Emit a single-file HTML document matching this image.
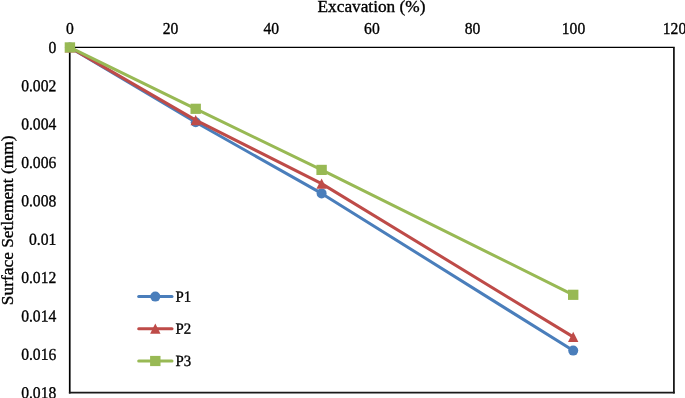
<!DOCTYPE html>
<html>
<head>
<meta charset="utf-8">
<title>Surface Setlement vs Excavation</title>
<style>
html,body{margin:0;padding:0;background:#fff;}
body{width:685px;height:398px;overflow:hidden;}
svg{display:block;}
text{font-family:"Liberation Serif",serif;fill:#000;stroke:#000;stroke-width:0.35px;}
.tick{font-size:16.8px;}
.title{font-size:17.3px;}
.leg{font-size:15.6px;}
</style>
</head>
<body>
<svg width="685" height="398" viewBox="0 0 685 398">
<rect x="0" y="0" width="685" height="398" fill="#ffffff"/>
<!-- plot border -->
<line x1="69.1" y1="47.4" x2="674.7" y2="47.4" stroke="#000" stroke-width="1.4"/>
<line x1="69.75" y1="47.4" x2="69.75" y2="393.5" stroke="#000" stroke-width="1.7"/>
<line x1="673.9" y1="47.4" x2="673.9" y2="393.6" stroke="#1a1a1a" stroke-width="1.8"/>
<line x1="68.9" y1="392.7" x2="674.7" y2="392.7" stroke="#1a1a1a" stroke-width="1.8"/>
<!-- x tick labels -->
<g class="tick" text-anchor="middle">
<text transform="translate(69.9,34) scale(0.93,1)">0</text>
<text transform="translate(170.6,34) scale(0.93,1)">20</text>
<text transform="translate(271.2,34) scale(0.93,1)">40</text>
<text transform="translate(371.9,34) scale(0.93,1)">60</text>
<text transform="translate(472.6,34) scale(0.93,1)">80</text>
<text transform="translate(573.5,34) scale(0.93,1)">100</text>
<text transform="translate(674.5,34) scale(0.93,1)">120</text>
</g>
<!-- y tick labels -->
<g class="tick" text-anchor="end">
<text transform="translate(56.3,52.9) rotate(0.1) scale(0.93,1)">0</text>
<text transform="translate(56.3,91.2) rotate(0.1) scale(0.93,1)">0.002</text>
<text transform="translate(56.3,129.6) rotate(0.1) scale(0.93,1)">0.004</text>
<text transform="translate(56.3,168.0) rotate(0.1) scale(0.93,1)">0.006</text>
<text transform="translate(56.3,206.4) rotate(0.1) scale(0.93,1)">0.008</text>
<text transform="translate(56.3,244.7) rotate(0.1) scale(0.93,1)">0.01</text>
<text transform="translate(56.3,283.1) rotate(0.1) scale(0.93,1)">0.012</text>
<text transform="translate(56.3,321.5) rotate(0.1) scale(0.93,1)">0.014</text>
<text transform="translate(56.3,359.9) rotate(0.1) scale(0.93,1)">0.016</text>
<text transform="translate(56.3,398.2) rotate(0.1) scale(0.93,1)">0.018</text>
</g>
<!-- axis titles -->
<text class="title" transform="translate(371.5,11.7)" text-anchor="middle">Excavation (%)</text>
<text class="title" style="font-size:17.38px" transform="translate(12.5,220.3) rotate(-90)" text-anchor="middle">Surface Setlement (mm)</text>
<!-- series P1 -->
<g>
<polyline points="69.9,47.4 195.7,122.3 321.6,193.4 573.2,350.6" fill="none" stroke="#4a7ebb" stroke-width="3" stroke-linejoin="round" stroke-linecap="round"/>
<circle cx="69.9" cy="47.4" r="5" fill="#4a7ebb"/>
<circle cx="195.7" cy="122.3" r="5" fill="#4a7ebb"/>
<circle cx="321.6" cy="193.4" r="5" fill="#4a7ebb"/>
<circle cx="573.2" cy="350.6" r="5" fill="#4a7ebb"/>
</g>
<!-- series P2 -->
<g>
<polyline points="69.9,47.4 195.7,120.1 321.6,183.6 573.2,336.9" fill="none" stroke="#be4b48" stroke-width="3" stroke-linejoin="round" stroke-linecap="round"/>
<polygon points="69.9,42.2 75.1,52.5 64.7,52.5" fill="#be4b48"/>
<polygon points="195.7,114.9 200.9,125.2 190.5,125.2" fill="#be4b48"/>
<polygon points="321.6,178.4 326.8,188.7 316.4,188.7" fill="#be4b48"/>
<polygon points="573.2,331.7 578.4,342.0 568.0,342.0" fill="#be4b48"/>
</g>
<!-- series P3 -->
<g>
<polyline points="69.9,47.4 195.7,108.8 321.6,169.9 573.2,294.8" fill="none" stroke="#98b954" stroke-width="3" stroke-linejoin="round" stroke-linecap="round"/>
<rect x="64.7" y="42.3" width="10.4" height="10.2" fill="#98b954"/>
<rect x="190.5" y="103.7" width="10.4" height="10.2" fill="#98b954"/>
<rect x="316.4" y="164.8" width="10.4" height="10.2" fill="#98b954"/>
<rect x="568.0" y="289.7" width="10.4" height="10.2" fill="#98b954"/>
</g>
<!-- legend -->
<g>
<line x1="138.7" y1="296.6" x2="172" y2="296.6" stroke="#4a7ebb" stroke-width="3" stroke-linecap="round"/>
<circle cx="155.3" cy="296.6" r="5" fill="#4a7ebb"/>
<text class="leg" transform="translate(175.4,301.7) rotate(0.1) scale(0.95,1)">P1</text>
<line x1="138.7" y1="328.7" x2="172" y2="328.7" stroke="#be4b48" stroke-width="3" stroke-linecap="round"/>
<polygon points="155.3,323.5 160.5,333.8 150.1,333.8" fill="#be4b48"/>
<text class="leg" transform="translate(175.4,333.8) rotate(0.1) scale(0.95,1)">P2</text>
<line x1="138.7" y1="360.9" x2="172" y2="360.9" stroke="#98b954" stroke-width="3" stroke-linecap="round"/>
<rect x="150.1" y="355.9" width="10.4" height="10.2" fill="#98b954"/>
<text class="leg" transform="translate(175.4,366) rotate(0.1) scale(0.95,1)">P3</text>
</g>
</svg>
</body>
</html>
